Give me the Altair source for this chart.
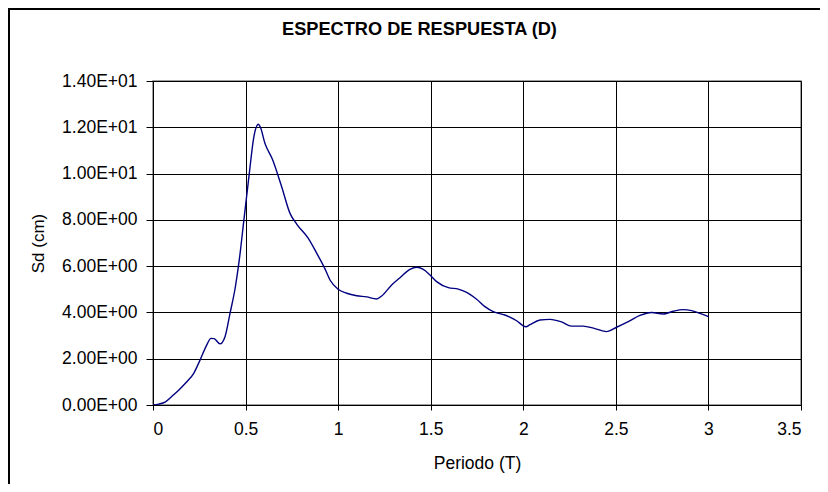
import altair as alt
import pandas as pd

TITLE = "ESPECTRO DE RESPUESTA (D)"
X_TITLE = "Periodo (T)"
Y_TITLE = "Sd (cm)"

periodo = [0.0, 0.03, 0.065, 0.10, 0.14, 0.18, 0.22, 0.254, 0.29, 0.313, 0.33, 0.362,
           0.389, 0.416, 0.445, 0.466, 0.491, 0.52, 0.545, 0.569, 0.58, 0.605, 0.646,
           0.695, 0.74, 0.776, 0.839, 0.884, 0.929, 0.956, 1.0, 1.046, 1.10, 1.154,
           1.208, 1.235, 1.289, 1.334, 1.388, 1.424, 1.46, 1.496, 1.532, 1.595, 1.649,
           1.694, 1.748, 1.793, 1.838, 1.90, 1.964, 2.014, 2.036, 2.09, 2.144, 2.207,
           2.26, 2.323, 2.387, 2.45, 2.504, 2.567, 2.63, 2.693, 2.756, 2.81, 2.863,
           2.909, 2.954, 3.0]
sd = [0.0, 0.04, 0.12, 0.36, 0.65, 0.98, 1.37, 1.94, 2.59, 2.88, 2.87, 2.64,
      2.95, 3.96, 5.11, 6.27, 8.0, 10.0, 11.6, 12.13, 12.0, 11.3, 10.6,
      9.43, 8.28, 7.82, 7.2, 6.56, 5.88, 5.4, 5.0, 4.83, 4.72, 4.67,
      4.58, 4.71, 5.19, 5.5, 5.86, 5.95, 5.86, 5.62, 5.33, 5.07, 5.01,
      4.87, 4.57, 4.25, 4.03, 3.89, 3.64, 3.38, 3.47, 3.67, 3.70, 3.59,
      3.41, 3.41, 3.30, 3.17, 3.36, 3.60, 3.87, 4.0, 3.93, 4.05, 4.12,
      4.08, 3.96, 3.82]

x_ticks = [0, 0.5, 1, 1.5, 2, 2.5, 3, 3.5]
y_ticks = [0, 2, 4, 6, 8, 10, 12, 14]

df = pd.DataFrame({"T": periodo, "Sd": sd})
FONT = "Liberation Sans"

line = alt.Chart(df).mark_line(
    color="#000080", strokeWidth=1.4, interpolate="monotone", clip=True
).encode(
    x=alt.X("T:Q", scale=alt.Scale(domain=[0, 3.5], nice=False, zero=False),
            axis=alt.Axis(values=x_ticks, format="~g", title=X_TITLE,
                          grid=True, gridColor="#000000", gridWidth=1,
                          domainColor="#000000", tickColor="#000000", tickSize=5,
                          labelFont=FONT, labelFontSize=17.5, labelColor="#000000",
                          labelPadding=10,
                          titleFont=FONT, titleFontSize=17.5, titleFontWeight="normal",
                          titleColor="#000000", titleY=63, titleBaseline="alphabetic")),
    y=alt.Y("Sd:Q", scale=alt.Scale(domain=[0, 14], nice=False),
            axis=alt.Axis(values=y_ticks,
                          labelExpr="datum.value >= 10 ? format(datum.value/10, '.2f') + 'E+01' : format(datum.value, '.2f') + 'E+00'",
                          title=Y_TITLE, grid=True, gridColor="#000000", gridWidth=1,
                          domainColor="#000000", tickColor="#000000", tickSize=7,
                          labelFont=FONT, labelFontSize=17.5, labelColor="#000000",
                          labelPadding=9,
                          titleFont=FONT, titleFontSize=17, titleFontWeight="normal",
                          titleColor="#000000", titleX=-110, titleY=162,
                          titleAngle=-90, titleBaseline="alphabetic", titleAlign="center")),
)

title = alt.Chart(pd.DataFrame({"t": [TITLE]})).mark_text(
    font=FONT, fontSize=18.2, fontWeight="bold", color="#000000",
    align="center", baseline="alphabetic"
).encode(x=alt.value(266.5), y=alt.value(-46), text="t:N")

border_left = alt.Chart(pd.DataFrame({"t": [TITLE]})).mark_rule(
    color="#000000", strokeWidth=2
).encode(x=alt.value(-144), y=alt.value(-73), y2=alt.value(420))

border_top = alt.Chart(pd.DataFrame({"t": [TITLE]})).mark_rule(
    color="#000000", strokeWidth=2
).encode(x=alt.value(-145), x2=alt.value(700), y=alt.value(-72))

chart = alt.layer(line, title, border_left, border_top).properties(
    width=648, height=324,
    autosize=alt.AutoSizeParams(type="none"),
    padding={"left": 145, "top": 73, "right": 19, "bottom": 79},
    background="#ffffff",
).configure_view(stroke="#808080", strokeWidth=1.5)

chart.save("out.html", embed_options={"renderer": "svg", "actions": False})
